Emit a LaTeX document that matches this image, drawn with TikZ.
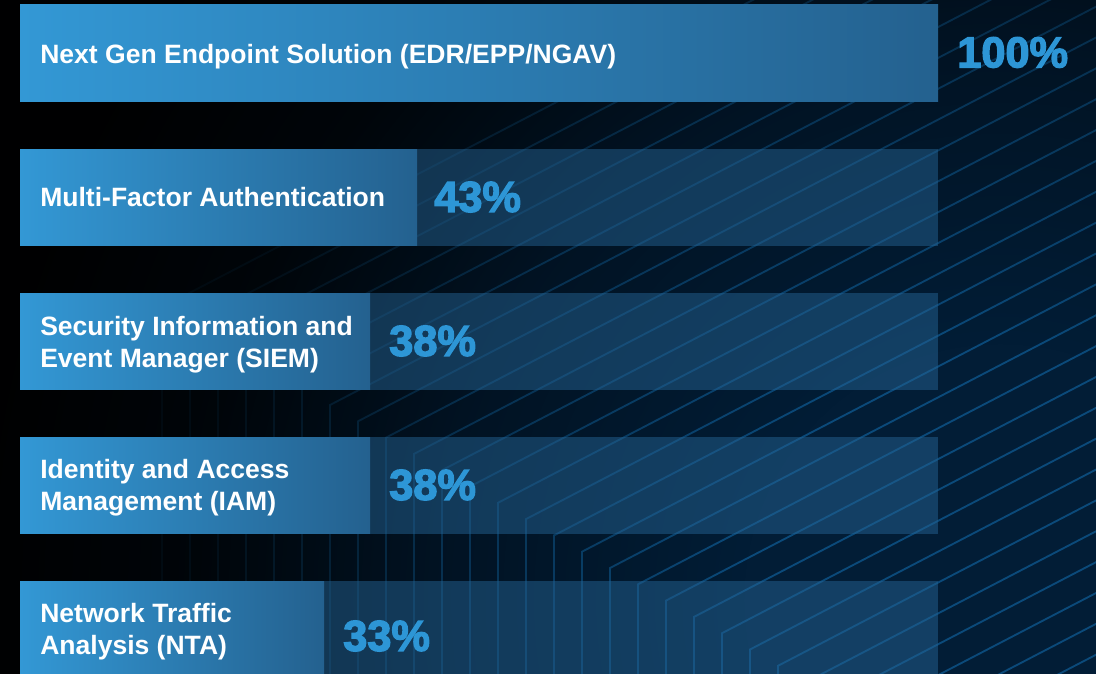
\documentclass[tikz,border=0pt]{standalone}
\usepackage{fontspec}
\setmainfont{Liberation Sans}
\newfontfamily\pctfont{Liberation Sans Bold}[FakeBold=3]
\usetikzlibrary{fadings}
\definecolor{bgnavy}{HTML}{021D36}
\definecolor{linec}{HTML}{0B4A7A}
\definecolor{trackc}{HTML}{246292}
\definecolor{barL}{HTML}{3398D5}
\definecolor{barR}{HTML}{24618F}
\definecolor{pctc}{HTML}{2D96D6}
\pgfdeclareradialshading{bgfadeshade}{\pgfpoint{0bp}{0bp}}{color(0bp)=(black); color(190bp)=(black); color(420bp)=(black!65!white); color(600bp)=(black!18!white); color(760bp)=(white!97!black); color(1300bp)=(white!97!black)}
\pgfdeclarefading{bgfade}{\pgfuseshading{bgfadeshade}}
\tikzset{
  lbl/.style={anchor=base west, inner sep=0pt, text=white, align=left,
    font=\bfseries\fontsize{19.9}{23.7}\selectfont},
  pct/.style={anchor=west, inner sep=0pt, text=pctc,
    font=\pctfont\fontsize{32.5}{32.5}\selectfont},
  track/.style={fill=trackc, fill opacity=0.5},
  fillbar/.style={left color=barL, right color=barR},
  bgline/.style={draw=linec, line width=1.4pt}
}
\begin{document}
\begin{tikzpicture}[x=0.75pt, y=-0.75pt]
\useasboundingbox (0,0) rectangle (1096,674);
% background
\fill[bgnavy] (0,0) rectangle (1096,674);
\begin{scope}
  \clip (0,0) rectangle (1096,674);
  \foreach \i in {-6,...,21}{
    \pgfmathsetmacro\xx{330+28*\i}
    \pgfmathsetmacro\yy{405+16.3*\i}
    \draw[bgline] (\xx,690) -- (\xx,\yy) -- ++(1300,-676);
  }
\end{scope}
\fill[black, path fading=bgfade, fit fading=false, fading transform={shift={(1000,600)}}] (0,0) rectangle (1096,674);
% tracks
\fill[track] (20,149) rectangle (938,245.5);
\fill[track] (20,293) rectangle (938,389.5);
\fill[track] (20,437) rectangle (938,533.5);
\fill[track] (20,581) rectangle (938,677.5);
% filled bars
\shade[fillbar] (20,5) rectangle (938,101.5);
\shade[fillbar] (20,149) rectangle (417,245.5);
\shade[fillbar] (20,293) rectangle (370,389.5);
\shade[fillbar] (20,437) rectangle (370,533.5);
\shade[fillbar] (20,581) rectangle (324,677.5);
% labels
\node[lbl] (l1) at (40,63.5) {Next Gen Endpoint Solution (EDR/EPP/NGAV)};
\node[lbl] (l2) at (40,206.5) {Multi-Factor Authentication};
\node[lbl] (l3) at (40,367) {Security Information and\\Event Manager (SIEM)};
\node[lbl] (l4) at (40,510.5) {Identity and Access\\Management (IAM)};
\node[lbl] (l5) at (40,654) {Network Traffic\\Analysis (NTA)};
% percentages
\node[pct] (p1) at (957,52.5) {100\%};
\node[pct] (p2) at (434,197) {43\%};
\node[pct] (p3) at (389,341) {38\%};
\node[pct] (p4) at (389,485) {38\%};
\node[pct] (p5) at (343,636) {33\%};
\end{tikzpicture}
\end{document}
